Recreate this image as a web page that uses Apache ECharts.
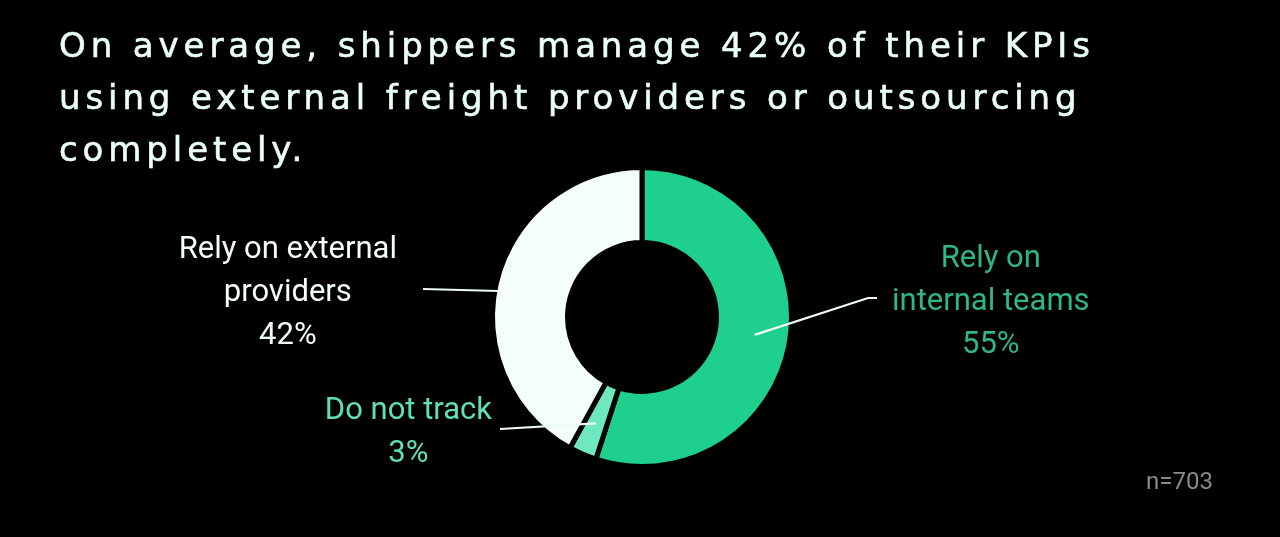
<!DOCTYPE html>
<html>
<head>
<meta charset="utf-8">
<script src="https://cdn.jsdelivr.net/npm/echarts@6/dist/echarts.min.js"></script>
<style>
  html, body { margin: 0; padding: 0; background: #000; }
  #wrap { position: relative; width: 1280px; height: 537px; background: #000; overflow: hidden; }
  #chart { position: absolute; left: 0; top: 0; width: 1280px; height: 537px; }
  #title {
    position: absolute; left: 59px; top: 19px; margin: 0;
    font-family: "DejaVu Sans", sans-serif; font-weight: normal;
    font-size: 34px; line-height: 52px; letter-spacing: 4.9px;
    -webkit-text-stroke: 0.6px #eafff6;
    color: #eafff6; z-index: 2; white-space: nowrap;
  }
</style>
</head>
<body>
<div id="wrap">
  <h1 id="title">On average, shippers manage 42% of their KPIs<br>using external freight providers or outsourcing<br>completely.</h1>
  <div id="chart"></div>
</div>
<script>
// ---- data ----
const categories = ['Rely on internal teams', 'Do not track', 'Rely on external providers'];
const labelText = ['Rely on\ninternal teams', 'Do not track', 'Rely on external\nproviders'];
const shares = [55, 3, 42];
const sampleNote = 'n=703';

// ---- styles / layout ----
const sliceColors = ['#1fcf8e', '#6fe8c0', '#f4fffb'];
const labelColors = ['#2fb686', '#5fe1b5', '#f2fffa'];
const CX = 642, CY = 317, R_IN = 77, R_OUT = 147, GAP = 5;
// label guide geometry, relative to the donut centre
const guides = [
  { anchorR: 114, end: [235, -19], bend: 9, gap: 15, side: 'right' },
  { anchorR: 116, end: [-142, 112], bend: 0, gap: 8, side: 'left' },
  { anchorR: null, end: [-219, -28], bend: 0, gap: 26, side: 'left' }
];
const LABEL_DY = 4;

const total = shares.reduce((a, b) => a + b, 0);
function bisectorPoint(i, r) {
  let before = 0;
  for (let k = 0; k < i; k++) before += shares[k];
  const th = (before + shares[i] / 2) / total * Math.PI * 2;
  return [CX + r * Math.sin(th), CY - r * Math.cos(th)];
}

const chart = echarts.init(document.getElementById('chart'), null, { renderer: 'canvas' });
chart.setOption({
  backgroundColor: '#000',
  animation: false,
  title: [{
    text: sampleNote, left: 1141, top: 466,
    textStyle: { fontFamily: 'Roboto', fontSize: 24, lineHeight: 24, fontWeight: 'normal', color: '#8a8a8a' }
  }],
  series: [{
    // the ring
    type: 'pie',
    z: 2,
    center: [CX, CY],
    radius: [R_IN - GAP / 2, R_OUT + GAP / 2],
    startAngle: 90,
    clockwise: true,
    silent: true,
    emphasis: { disabled: true },
    itemStyle: { borderColor: '#000', borderWidth: GAP },
    label: { show: false },
    labelLine: { show: false },
    data: categories.map((name, i) => ({
      name: name, value: shares[i], itemStyle: { color: sliceColors[i] }
    }))
  }, {
    // transparent overlay carrying labels and guide lines above the ring
    type: 'pie',
    z: 3,
    center: [CX, CY],
    radius: [R_IN, R_OUT],
    startAngle: 90,
    clockwise: true,
    silent: true,
    avoidLabelOverlap: false,
    emphasis: { disabled: true },
    itemStyle: { color: 'rgba(0,0,0,0)', borderWidth: 0 },
    label: {
      show: true,
      position: 'outside',
      fontFamily: 'Roboto',
      fontSize: 31,
      lineHeight: 43,
      align: 'center',
      formatter: p => labelText[p.dataIndex] + '\n' + p.value + '%'
    },
    labelLine: { show: true, length: 20, length2: 10, lineStyle: { color: '#eefcf6', width: 2.2 } },
    labelLayout: function (p) {
      const i = p.dataIndex;
      const g = guides[i];
      const end = [CX + g.end[0], CY + g.end[1]];
      const w = p.labelRect.width;
      let start;
      if (g.anchorR) {
        start = bisectorPoint(i, g.anchorR);
      } else {
        const dy = end[1] - CY;
        start = [CX - Math.sqrt(R_OUT * R_OUT - dy * dy) + 1, end[1] + 2];
      }
      const pts = [start];
      if (g.bend) pts.push([end[0] + (g.side === 'right' ? -g.bend : g.bend), end[1]]);
      pts.push(end);
      const x = g.side === 'right' ? end[0] + g.gap + w / 2 : end[0] - g.gap - w / 2;
      return { x: x, y: end[1] + LABEL_DY, align: 'center', verticalAlign: 'middle', labelLinePoints: pts };
    },
    data: categories.map((name, i) => ({
      name: name,
      value: shares[i],
      label: { color: labelColors[i] }
    }))
  }]
});
</script>
</body>
</html>
